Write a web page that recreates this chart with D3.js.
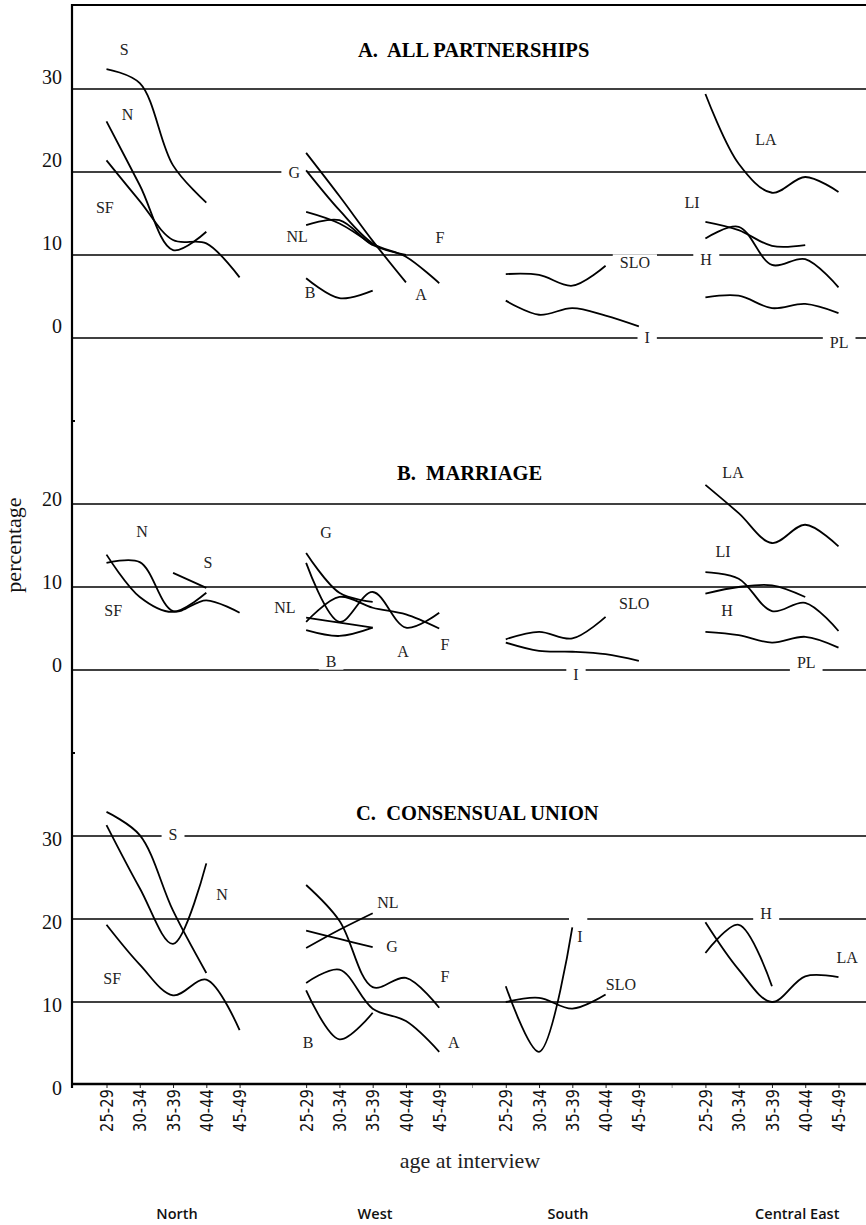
<!DOCTYPE html>
<html lang="en">
<head>
<meta charset="UTF-8">
<title>Partnerships by age at interview</title>
<script src="https://cdn.jsdelivr.net/npm/d3@7/dist/d3.min.js"></script>
<style>
  body { margin: 0; background: #fff; }
  svg { display: block; }
</style>
</head>
<body>
<svg width="866" height="1225" id="svgcontainer"></svg>
<script>
    const ages = ['25-29', '30-34', '35-39', '40-44', '45-49'];
    const regions = ['North', 'West', 'South', 'Central East'];
    const titles = ['A.\u00a0 ALL PARTNERSHIPS', 'B.\u00a0 MARRIAGE', 'C.\u00a0 CONSENSUAL UNION'];

    // percentages by age group, region index: 0 North, 1 West, 2 South, 3 Central East
    const allPartnerships = [
        {name: 'S', region: 0, values: [32.4, 30.7, 20.8, 16.3, null]},
        {name: 'N', region: 0, values: [26.1, 18.4, 10.6, 12.8, null]},
        {name: 'SF', region: 0, values: [21.4, 16.5, 11.8, 11.4, 7.3]},
        {name: 'A', region: 1, values: [22.3, 17.1, 11.7, 6.7, null]},
        {name: 'G', region: 1, values: [20.2, 15.4, 11.4, 9.8, 6.6]},
        {name: 'NL', region: 1, values: [15.2, 13.8, 11.2, null, null]},
        {name: 'F', region: 1, values: [13.6, 14.2, 11.2, 10.0, null]},
        {name: 'B', region: 1, values: [7.2, 4.8, 5.7, null, null]},
        {name: 'SLO', region: 2, values: [7.7, 7.6, 6.3, 8.7, null]},
        {name: 'I', region: 2, values: [4.5, 2.8, 3.6, 2.7, 1.4]},
        {name: 'LA', region: 3, values: [29.4, 21.0, 17.5, 19.4, 17.6]},
        {name: 'LI', region: 3, values: [14.0, 13.0, 11.1, 11.2, null]},
        {name: 'H', region: 3, values: [12.0, 13.4, 8.8, 9.5, 6.1]},
        {name: 'PL', region: 3, values: [4.9, 5.1, 3.6, 4.1, 3.0]}
    ];

    const marriage = [
        {name: 'N', region: 0, values: [12.9, 13.0, 7.1, 8.4, 6.9]},
        {name: 'SF', region: 0, values: [13.9, 8.8, 7.0, 9.3, null]},
        {name: 'S', region: 0, values: [null, null, 11.7, 9.9, null]},
        {name: 'G', region: 1, values: [14.1, 9.3, 8.2, null, null]},
        {name: 'A', region: 1, values: [12.9, 5.8, 9.4, 5.1, 6.9]},
        {name: 'F', region: 1, values: [5.8, 8.8, 7.5, 6.7, 5.0]},
        {name: 'NL', region: 1, values: [6.3, 5.7, 5.1, null, null]},
        {name: 'B', region: 1, values: [4.8, 4.1, 5.1, null, null]},
        {name: 'SLO', region: 2, values: [3.7, 4.6, 3.8, 6.4, null]},
        {name: 'I', region: 2, values: [3.3, 2.3, 2.2, 1.9, 1.1]},
        {name: 'LA', region: 3, values: [22.3, 18.9, 15.3, 17.5, 14.9]},
        {name: 'LI', region: 3, values: [11.8, 11.0, 7.1, 8.1, 4.7]},
        {name: 'H', region: 3, values: [9.2, 10.0, 10.2, 8.8, null]},
        {name: 'PL', region: 3, values: [4.6, 4.2, 3.3, 4.0, 2.7]}
    ];

    const consensualUnion = [
        {name: 'S', region: 0, values: [32.9, 30.1, 21.0, 13.5, null]},
        {name: 'N', region: 0, values: [31.3, 23.7, 17.0, 26.7, null]},
        {name: 'SF', region: 0, values: [19.3, 14.5, 10.8, 12.7, 6.6]},
        {name: 'F', region: 1, values: [24.1, 19.8, 11.8, 12.9, 9.3]},
        {name: 'NL', region: 1, values: [16.5, 18.7, 20.7, null, null]},
        {name: 'G', region: 1, values: [18.6, 17.6, 16.6, null, null]},
        {name: 'A', region: 1, values: [12.3, 13.9, 9.2, 7.7, 4.0]},
        {name: 'B', region: 1, values: [11.4, 5.5, 8.7, null, null]},
        {name: 'I', region: 2, values: [11.9, 4.0, 19.0, null, null]},
        {name: 'SLO', region: 2, values: [10.0, 10.5, 9.2, 10.9, null]},
        {name: 'H', region: 3, values: [15.9, 19.3, 11.9, null, null]},
        {name: 'LA', region: 3, values: [19.6, 13.9, 10.0, 13.1, 13.0]}
    ];

    const ticksA = [0, 10, 20, 30];
    const ticksB = [0, 10, 20];
    const ticksC = [0, 10, 20, 30];

    // country labels: [text, slot on the age axis, value]; true = label cuts the grid line
    const labelsA = [['S', 0.53, 34.1], ['N', 0.63, 26.3], ['SF', -0.05, 15.1], ['G', 5.64, 19.3, true],
        ['NL', 5.73, 11.6], ['B', 6.12, 4.8], ['A', 9.45, 4.6], ['F', 10.02, 11.4],
        ['SLO', 15.88, 8.4, true], ['H', 18.02, 8.8, true], ['LA', 19.82, 23.3], ['LI', 17.6, 15.7],
        ['I', 16.25, -0.6, true], ['PL', 22.02, -1.2, true]];
    const labelsB = [['N', 1.07, 16.0], ['S', 3.05, 12.3], ['SF', 0.2, 6.5], ['G', 6.6, 15.9],
        ['NL', 5.36, 6.9], ['B', 6.75, 0.4, true], ['A', 8.91, 1.6], ['F', 10.17, 2.4],
        ['SLO', 15.86, 7.3], ['I', 14.11, -1.2, true], ['LA', 18.83, 23.1], ['LI', 18.53, 13.6],
        ['H', 18.65, 6.5], ['PL', 21.03, 0.2, true]];
    const labelsC = [['S', 2.0, 29.5, true], ['N', 3.47, 22.3], ['SF', 0.17, 12.2], ['NL', 8.46, 21.3],
        ['G', 8.58, 16.0], ['F', 10.17, 12.4], ['B', 6.06, 4.5], ['A', 10.44, 4.5],
        ['I', 14.23, 17.2], ['SLO', 15.46, 11.4], ['H', 19.82, 20.0, true], ['LA', 22.26, 14.7]];

    const svg = d3.select('#svgcontainer');
    const serif = '"Liberation Serif", "Times New Roman", serif';
    const left = 72, right = 866, axisY = 1084;

    // 5 age slots per region plus one empty slot between regions
    const x = d3.scaleLinear().domain([0, 22]).range([106.5, 838.5]);
    const slot = (region, a) => region * 6 + a;

    const panels = [
        {title: titles[0], data: allPartnerships, labels: labelsA, ticks: ticksA, grid: [0, 10, 20, 30],
            y: d3.scaleLinear().domain([0, 30]).range([338, 89]), tickDy: -6, titleX: 358, titleY: 57},
        {title: titles[1], data: marriage, labels: labelsB, ticks: ticksB, grid: [0, 10, 20],
            y: d3.scaleLinear().domain([0, 20]).range([670, 504]), tickDy: 1, titleX: 397, titleY: 480},
        {title: titles[2], data: consensualUnion, labels: labelsC, ticks: ticksC, grid: [10, 20, 30],
            y: d3.scaleLinear().domain([0, 30]).range([1085, 836]), tickDy: 9, titleX: 356, titleY: 820}
    ];

    svg.append('rect').attr('width', 866).attr('height', 1225).attr('fill', '#fff');

    const gridLayer = svg.append('g');
    const gapLayer = svg.append('g');
    const curveLayer = svg.append('g');
    const textLayer = svg.append('g');

    panels.forEach(p => {
        gridLayer.selectAll(null).data(p.grid).join('line')
            .attr('x1', left).attr('x2', right)
            .attr('y1', d => p.y(d)).attr('y2', d => p.y(d))
            .attr('stroke', '#000').attr('stroke-width', 1.4);

        const yAxis = gridLayer.append('g')
            .attr('transform', `translate(${left},0)`)
            .call(d3.axisLeft(p.y).tickValues(p.ticks).tickSize(0).tickPadding(10))
            .attr('font-family', serif).attr('font-size', 20);
        yAxis.select('.domain').remove();
        yAxis.selectAll('text')
            .attr('dy', p.tickDy)
            .attr('font-family', serif).attr('font-size', 20).attr('fill', '#111');

        const line = d3.line()
            .defined(d => d.v != null)
            .x(d => x(d.i))
            .y(d => p.y(d.v))
            .curve(d3.curveCatmullRom);

        curveLayer.selectAll(null).data(p.data).join('path')
            .attr('d', s => line(s.values.map((v, a) => ({i: slot(s.region, a), v}))))
            .attr('fill', 'none').attr('stroke', '#000')
            .attr('stroke-width', 1.8).attr('stroke-linejoin', 'round');

        p.labels.forEach(([t, i, v, cut]) => {
            const txt = textLayer.append('text')
                .attr('x', x(i)).attr('y', p.y(v))
                .attr('text-anchor', 'middle')
                .attr('font-family', serif).attr('font-size', 16).attr('fill', '#222')
                .text(t);
            if (cut) {
                const b = txt.node().getBBox();
                gapLayer.append('rect')
                    .attr('x', b.x - 7).attr('y', b.y)
                    .attr('width', b.width + 14).attr('height', b.height)
                    .attr('fill', '#fff');
            }
        });

        textLayer.append('text')
            .attr('x', p.titleX).attr('y', p.titleY)
            .attr('font-family', serif).attr('font-size', 20.5).attr('font-weight', 'bold')
            .text(p.title);
    });

    // short break in the C panel 20-line above the I curve
    const yC = panels[2].y;
    gapLayer.append('rect')
        .attr('x', x(13.9)).attr('y', yC(20) - 2)
        .attr('width', x(14.45) - x(13.9)).attr('height', 4)
        .attr('fill', '#fff');

    // frame
    svg.append('line').attr('x1', left).attr('x2', left).attr('y1', 4).attr('y2', 1088)
        .attr('stroke', '#000').attr('stroke-width', 2.2);
    svg.append('line').attr('x1', left - 1).attr('x2', right).attr('y1', 5).attr('y2', 5)
        .attr('stroke', '#000').attr('stroke-width', 2.2);
    [panels[1].y(30), panels[2].y(40)].forEach(yy => {
        svg.append('line').attr('x1', left).attr('x2', left + 3).attr('y1', yy).attr('y2', yy)
            .attr('stroke', '#000').attr('stroke-width', 2);
    });

    // age axis
    const slots = d3.range(4).flatMap(r => d3.range(5).map(a => slot(r, a)));
    const xAxis = svg.append('g')
        .attr('transform', `translate(0,${axisY})`)
        .call(d3.axisBottom(x).tickValues(slots).tickSize(4).tickFormat(i => ages[i % 6]));
    xAxis.select('.domain').remove();
    xAxis.selectAll('.tick line').attr('stroke', '#222').attr('stroke-width', 1);
    xAxis.selectAll('text')
        .attr('transform', 'rotate(-90)')
        .attr('x', -5).attr('y', 0).attr('dy', '0.36em')
        .attr('text-anchor', 'end')
        .attr('font-family', '"DejaVu Sans", Verdana, sans-serif').attr('font-size', 17)
        .attr('textLength', 43).attr('lengthAdjust', 'spacingAndGlyphs')
        .attr('fill', '#111');
    svg.selectAll(null).data([11, 17]).join('line')
        .attr('x1', d => x(d)).attr('x2', d => x(d))
        .attr('y1', axisY).attr('y2', axisY + 4)
        .attr('stroke', '#999').attr('stroke-width', 1);
    svg.append('line').attr('x1', left - 1).attr('x2', right).attr('y1', axisY).attr('y2', axisY)
        .attr('stroke', '#000').attr('stroke-width', 2.6);

    svg.append('text').attr('x', 470).attr('y', 1168).attr('text-anchor', 'middle')
        .attr('font-family', serif).attr('font-size', 22).attr('fill', '#222')
        .text('age at interview');

    svg.append('text').attr('transform', 'translate(21,545) rotate(-90)').attr('text-anchor', 'middle')
        .attr('font-family', serif).attr('font-size', 22).attr('fill', '#111')
        .text('percentage');

    const regionAt = [2.12, 8.07, 13.87, 20.76];
    svg.selectAll(null).data(regions).join('text')
        .attr('x', (d, i) => x(regionAt[i])).attr('y', 1219)
        .attr('text-anchor', 'middle')
        .attr('font-family', '"Open Sans", sans-serif').attr('font-weight', 600).attr('font-size', 14.5)
        .attr('fill', '#111')
        .text(d => d);
</script>
</body>
</html>
